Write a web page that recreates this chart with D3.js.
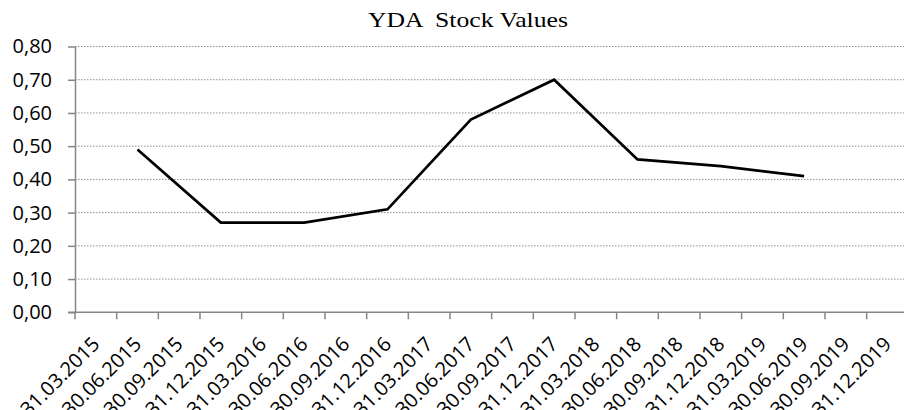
<!DOCTYPE html>
<html>
<head>
<meta charset="utf-8">
<script src="https://cdn.jsdelivr.net/npm/d3@7"></script>
<style>
  body { margin: 0; background: #fff; }
  svg { display: block; }
</style>
</head>
<body>
<svg width="904" height="410"></svg>
<script>
const dates = [
  "31.03.2015", "30.06.2015", "30.09.2015", "31.12.2015",
  "31.03.2016", "30.06.2016", "30.09.2016", "31.12.2016",
  "31.03.2017", "30.06.2017", "30.09.2017", "31.12.2017",
  "31.03.2018", "30.06.2018", "30.09.2018", "31.12.2018",
  "31.03.2019", "30.06.2019", "30.09.2019", "31.12.2019"
];
// values only reported every half year, others empty
const values = [
  null, 0.49, null, 0.27,
  null, 0.27, null, 0.31,
  null, 0.58, null, 0.70,
  null, 0.46, null, 0.44,
  null, 0.41, null, null
];
const yTicks = [0, 0.1, 0.2, 0.3, 0.4, 0.5, 0.6, 0.7, 0.8];
const title = "YDA  Stock Values";

const svg = d3.select("svg");
const m = { left: 75, right: 908.3, top: 46.5, bottom: 312.3 };

const x = d3.scaleBand().domain(dates).range([m.left, m.right]);
const y = d3.scaleLinear().domain([0, 0.8]).range([m.bottom, m.top]);

const fmt = (d) => d3.format(".2f")(d).replace(".", ",");

// gridlines
svg.append("g")
  .selectAll("line")
  .data(yTicks.filter((d) => d > 0))
  .join("line")
  .attr("x1", m.left)
  .attr("x2", 904)
  .attr("y1", (d) => y(d))
  .attr("y2", (d) => y(d))
  .attr("stroke", "#8f8f8f")
  .attr("stroke-width", 1)
  .attr("stroke-dasharray", "1.5,1.5");

// y axis
const yAxis = svg.append("g")
  .attr("transform", `translate(${m.left},0)`)
  .call(d3.axisLeft(y).tickValues(yTicks).tickFormat(fmt).tickSize(7).tickPadding(16).tickSizeOuter(0));
yAxis.select(".domain").attr("stroke", "#868686").attr("stroke-width", 1.5);
yAxis.selectAll(".tick line").attr("stroke", "#868686").attr("stroke-width", 1.5);
yAxis.selectAll("text")
  .attr("font-family", "'Open Sans', sans-serif")
  .attr("font-size", 20)
  .attr("fill", "#000");

// x axis, ticks between categories
const xAxis = svg.append("g").attr("transform", `translate(0,${m.bottom})`);
xAxis.append("line")
  .attr("x1", m.left - 7).attr("x2", 904)
  .attr("stroke", "#868686").attr("stroke-width", 1.5);
xAxis.selectAll(".tk")
  .data(dates)
  .join("line")
  .attr("class", "tk")
  .attr("x1", (d) => x(d)).attr("x2", (d) => x(d))
  .attr("y1", 0).attr("y2", 7)
  .attr("stroke", "#868686").attr("stroke-width", 1.5);
xAxis.selectAll("text")
  .data(dates)
  .join("text")
  .attr("transform", (d) => `translate(${x(d) + x.bandwidth() / 2 + 5},33) rotate(-45)`)
  .attr("text-anchor", "end")
  .attr("font-family", "'Open Sans', sans-serif")
  .attr("font-size", 20)
  .attr("fill", "#000")
  .text((d) => d);

// line (gaps connected)
const pts = dates.map((d, i) => ({ d, v: values[i] })).filter((p) => p.v !== null);
svg.append("path")
  .datum(pts)
  .attr("fill", "none")
  .attr("stroke", "#000")
  .attr("stroke-width", 2.7)
  .attr("stroke-linejoin", "miter")
  .attr("d", d3.line().x((p) => x(p.d) + x.bandwidth() / 2).y((p) => y(p.v)));

svg.append("text")
  .attr("x", 468)
  .attr("y", 27)
  .attr("text-anchor", "middle")
  .attr("font-family", "'Liberation Serif', 'Times New Roman', serif")
  .attr("font-size", 22)
  .attr("textLength", 200)
  .attr("lengthAdjust", "spacingAndGlyphs")
  .style("white-space", "pre")
  .text(title);
</script>
</body>
</html>
